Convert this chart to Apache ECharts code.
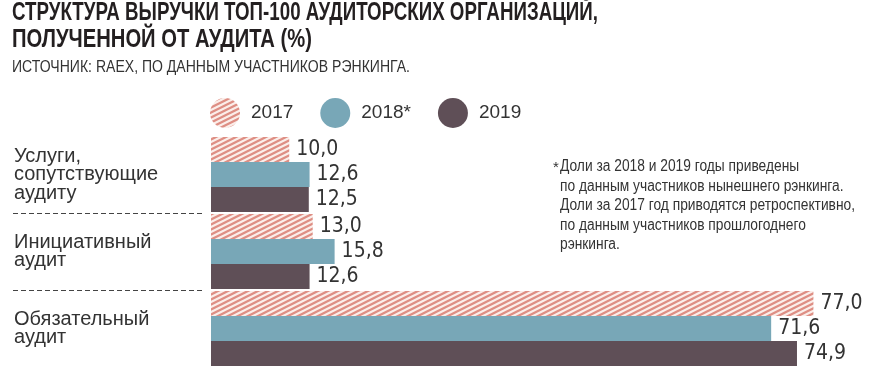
<!DOCTYPE html>
<html><head><meta charset="utf-8">
<script src="https://cdn.jsdelivr.net/npm/echarts@6/dist/echarts.min.js"></script>
<style>html,body{margin:0;padding:0;background:#fff}#c{width:879px;height:373px}</style></head>
<body><div id="c"></div>
<script>
const titleLines = ['СТРУКТУРА ВЫРУЧКИ ТОП-100 АУДИТОРСКИХ ОРГАНИЗАЦИЙ,', 'ПОЛУЧЕННОЙ ОТ АУДИТА (%)'];
const sourceText = 'ИСТОЧНИК: RAEX, ПО ДАННЫМ УЧАСТНИКОВ РЭНКИНГА.';
const categories = ['Услуги,\nсопутствующие\nаудиту', 'Инициативный\nаудит', 'Обязательный\nаудит'];
const seriesNames = ['2017', '2018*', '2019'];
const values2017 = [10.0, 13.0, 77.0];
const values2018 = [12.6, 15.8, 71.6];
const values2019 = [12.5, 12.6, 74.9];
const footnoteLines = [
  'Доли за 2018 и 2019 годы приведены',
  'по данным участников нынешнего рэнкинга.',
  'Доли за 2017 год приводятся ретроспективно,',
  'по данным участников прошлогоднего',
  'рэнкинга.'
];

const COND = '"DejaVu Sans Condensed","Liberation Sans",sans-serif';
const SANS = '"Liberation Sans",Arial,sans-serif';

const mctx = document.createElement('canvas').getContext('2d');
function fitScale(text, font, target) {
  mctx.font = font;
  return target / mctx.measureText(text).width;
}

function stripePattern() {
  const w = 10, h = 5;
  const c = document.createElement('canvas');
  c.width = w; c.height = h;
  const ctx = c.getContext('2d');
  ctx.fillStyle = '#fbeeea';
  ctx.fillRect(0, 0, w, h);
  ctx.strokeStyle = '#de8e84';
  ctx.lineWidth = 2.3;
  [-h, 0, h].forEach(function (dy) {
    ctx.beginPath();
    ctx.moveTo(-w, h + dy + h);
    ctx.lineTo(2 * w, dy - h);
    ctx.stroke();
  });
  return { image: c, repeat: 'repeat' };
}

const fmt = function (p) { return p.value.toFixed(1).replace('.', ','); };
const labelCfg = {
  show: true, position: 'right', distance: 7, formatter: fmt,
  fontFamily: COND, fontSize: 21, color: '#333'
};

const titleFont = 'bold 25px "Liberation Sans"';
const titleScale1 = fitScale(titleLines[0], titleFont, 586);
const titleScale2 = fitScale(titleLines[1], titleFont, 300);
const srcFont = '16.5px "Liberation Sans"';
const srcScale = fitScale(sourceText, srcFont, 398);
const noteFont = '16px "Liberation Sans"';
const noteScale = fitScale(footnoteLines[2], noteFont, 295);

const chart = echarts.init(document.getElementById('c'), null, { renderer: 'canvas' });
chart.setOption({
  animation: false,
  backgroundColor: '#fff',
  legend: {
    data: seriesNames, left: 210, top: 98, padding: 0,
    itemWidth: 30, itemHeight: 30, itemGap: 27, icon: 'circle',
    textStyle: { fontFamily: SANS, fontSize: 19, color: '#333', padding: [0, 0, 0, 6] }
  },
  grid: [
    { left: 211, right: 3, top: 136, bottom: 6 },
    { left: 13, width: 192, top: 136, bottom: 6 }
  ],
  xAxis: [
    { gridIndex: 0, type: 'value', min: 0, max: 85, show: false },
    { gridIndex: 1, type: 'value', min: 0, max: 1, show: false }
  ],
  yAxis: [
    { gridIndex: 0, type: 'category', data: categories, inverse: true,
      axisLine: { show: false }, axisTick: { show: false }, splitLine: { show: false },
      axisLabel: { align: 'left', margin: 197, fontFamily: SANS, fontSize: 20, lineHeight: 18.5, color: '#333' } },
    { gridIndex: 1, type: 'category', data: categories, inverse: true,
      axisLine: { show: false }, axisTick: { show: false }, axisLabel: { show: false },
      splitLine: { show: true, showMinLine: false, showMaxLine: false,
        lineStyle: { type: [5, 3], color: '#444', width: 1 } } }
  ],
  graphic: [
    { type: 'text', x: 12, y: 13.5, scaleX: titleScale1,
      style: { text: titleLines[0], font: titleFont, fill: '#231f20', verticalAlign: 'middle' } },
    { type: 'text', x: 12, y: 40.5, scaleX: titleScale2,
      style: { text: titleLines[1], font: titleFont, fill: '#231f20', verticalAlign: 'middle' } },
    { type: 'text', x: 12, y: 67, scaleX: srcScale,
      style: { text: sourceText, font: srcFont, fill: '#333', verticalAlign: 'middle' } },
    { type: 'text', x: 553, y: 160, style: { text: '*', font: '15px "Liberation Sans"', fill: '#333' } },
    { type: 'text', x: 560, y: 157, scaleX: noteScale,
      style: { text: footnoteLines.join('\n'), font: noteFont, lineHeight: 19.5, fill: '#333' } }
  ],
  series: [
    { name: seriesNames[0], type: 'bar', data: values2017, barWidth: 25, barGap: '0%',
      itemStyle: { color: stripePattern() }, label: labelCfg },
    { name: seriesNames[1], type: 'bar', data: values2018, barWidth: 25, barGap: '0%',
      itemStyle: { color: '#78a7b7' }, label: labelCfg },
    { name: seriesNames[2], type: 'bar', data: values2019, barWidth: 25, barGap: '0%',
      itemStyle: { color: '#5f4f57' }, label: labelCfg }
  ]
});
</script></body></html>
